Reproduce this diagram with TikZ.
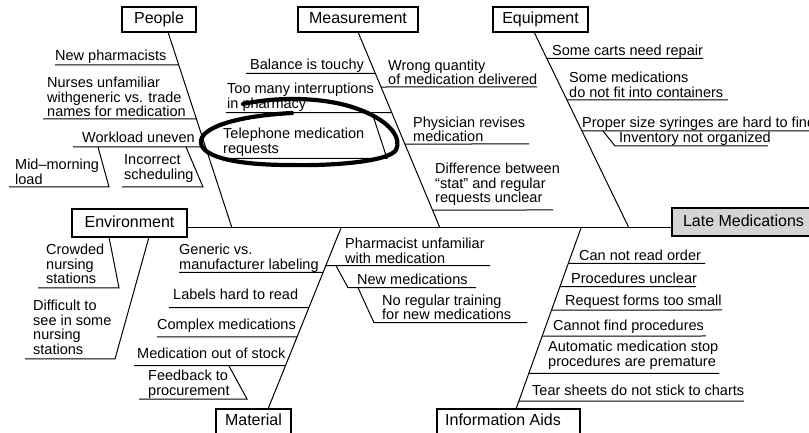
\documentclass[tikz,border=0pt]{standalone}
\usepackage{fontspec}
\setmainfont{Liberation Sans}
\begin{document}
\begin{tikzpicture}[x=1bp,y=-1bp,
  ln/.style={line width=1bp},
  cause/.style={anchor=base west, inner sep=0pt, align=left, font=\fontsize{14.5bp}{14.5bp}\selectfont},
  catbox/.style={draw, line width=1.2bp, fill=white, inner sep=0pt, minimum height=25bp,
    text height=11.5bp, text depth=3.4bp, font=\fontsize{16bp}{18bp}\selectfont},
  circ/.style={line width=4.2bp, line cap=round, line join=round}
]
\useasboundingbox (0,0) rectangle (809,433);
\clip (0,0) rectangle (809,433);

% bone coordinates
\coordinate (pT) at (168,32);  \coordinate (pB) at (232,228);
\coordinate (mT) at (358,32);  \coordinate (mB) at (440,228);
\coordinate (eT) at (534,32);  \coordinate (eB) at (629,228);
\coordinate (nT) at (149,237); \coordinate (nB) at (115,359);
\coordinate (maT) at (341,228); \coordinate (maB) at (268,409);
\coordinate (iT) at (581,228); \coordinate (iB) at (516,409);
\coordinate (sL) at (187,228); \coordinate (sR) at (672,228);

% spine and bones
\draw[ln] (sL) -- (sR);
\draw[ln] (pT) -- (pB);
\draw[ln] (mT) -- (mB);
\draw[ln] (eT) -- (eB);
\draw[ln] (maT) -- (maB);
\draw[ln] (iT) -- (iB);
\draw[ln] (nT) -- (nB) -- (25,359);

% People
\draw[ln] (55,65) -- (intersection of pT--pB and 55,65--300,65);
\draw[ln] (43,119) -- (intersection of pT--pB and 43,119--300,119);
\draw[ln] (73,147) -- (intersection of pT--pB and 73,147--300,147);
\draw[ln] (98,147) -- (109,187) -- (9,187);
\draw[ln] (186,147) -- (203,187) -- (122,187);
\node[cause] (c1) at (55,60.5) {New pharmacists};
\node[cause] (c2) at (47,116.8) {Nurses unfamiliar\\withgeneric vs. trade\\names for medication};
\node[cause] (c3) at (82,142.8) {Workload uneven};
\node[cause] (c4) at (15,184.3) {Mid–morning\\load};
\node[cause] (c5) at (124,179.3) {Incorrect\\scheduling};

% Measurement
\draw[ln] (246,73.3) -- (intersection of mT--mB and 246,73.3--500,73.3);
\draw[ln] (226,112.7) -- (intersection of mT--mB and 226,112.7--500,112.7);
\draw[ln] (372,112.7) -- (387,158.3) -- (222,158.3);
\draw[ln] (intersection of mT--mB and 300,87--600,87) -- (537,87);
\draw[ln] (intersection of mT--mB and 300,144--600,144) -- (529,144);
\draw[ln] (intersection of mT--mB and 300,210--600,210) -- (553,210);
\node[cause] (c6) at (250,69.5) {Balance is touchy};
\node[cause] (c7) at (227,108.3) {Too many interruptions\\in pharmacy};
\node[cause] (c8) at (223,153.3) {Telephone medication\\requests};
\node[cause] (c9) at (388,85) {Wrong quantity\\of medication delivered};
\node[cause] (c10) at (413,141.7) {Physician revises\\medication};
\node[cause] (c11) at (435,202.8) {Difference between\\“stat” and regular\\requests unclear};

% Equipment
\draw[ln] (intersection of eT--eB and 500,58.5--800,58.5) -- (703,58.5);
\draw[ln] (intersection of eT--eB and 500,100--800,100) -- (728,100);
\draw[ln] (intersection of eT--eB and 500,131--800,131) -- (812,131);
\draw[ln] (603,131) -- (615,146) -- (768,146);
\node[cause] (c12) at (552,56) {Some carts need repair};
\node[cause] (c13) at (569,97.5) {Some medications\\do not fit into containers};
\node[cause] (c14) at (582,127.5) {Proper size syringes are hard to find};
\node[cause] (c15) at (619,143) {Inventory not organized};

% Environment
\draw[ln] (109,237) -- (119,288) -- (38,288);
\node[cause] (c16) at (46,283.8) {Crowded\\nursing\\stations};
\node[cause] (c17) at (33,354.5) {Difficult to\\see in some\\nursing\\stations};

% Material
\draw[ln] (179,272.5) -- (intersection of maT--maB and 179,272.5--400,272.5);
\draw[ln] (169,307.7) -- (intersection of maT--maB and 169,307.7--400,307.7);
\draw[ln] (157,337) -- (intersection of maT--maB and 157,337--400,337);
\draw[ln] (134,365.7) -- (intersection of maT--maB and 134,365.7--400,365.7);
\draw[ln] (229,366) -- (247,399) -- (139,399);
\draw[ln] (intersection of maT--maB and 200,265.7--500,265.7) -- (490,265.7);
\draw[ln] (336,265.7) -- (348,287.7) -- (476,287.7);
\draw[ln] (358,287.7) -- (374,322.7) -- (527,322.7);
\node[cause] (c18) at (179,269.5) {Generic vs.\\manufacturer labeling};
\node[cause] (c19) at (173,300) {Labels hard to read};
\node[cause] (c20) at (157,329.5) {Complex medications};
\node[cause] (c21) at (137,358.5) {Medication out of stock};
\node[cause] (c22) at (148,395) {Feedback to\\procurement};
\node[cause] (c23) at (345,263.3) {Pharmacist unfamiliar\\with medication};
\node[cause] (c24) at (357,284.5) {New medications};
\node[cause] (c25) at (382,320) {No regular training\\for new medications};

% Information Aids
\draw[ln] (intersection of iT--iB and 450,263.3--800,263.3) -- (705,263.3);
\draw[ln] (intersection of iT--iB and 450,286.7--800,286.7) -- (696,286.7);
\draw[ln] (intersection of iT--iB and 450,310--800,310) -- (722,310);
\draw[ln] (intersection of iT--iB and 450,336--800,336) -- (706,336);
\draw[ln] (intersection of iT--iB and 450,373.3--800,373.3) -- (719,373.3);
\draw[ln] (intersection of iT--iB and 450,401--800,401) -- (744,401);
\node[cause] (c26) at (579,261) {Can not read order};
\node[cause] (c27) at (571,284) {Procedures unclear};
\node[cause] (c28) at (565,306) {Request forms too small};
\node[cause] (c29) at (553,330.5) {Cannot find procedures};
\node[cause] (c30) at (548,366.5) {Automatic medication stop\\procedures are premature};
\node[cause] (c31) at (532,395) {Tear sheets do not stick to charts};

% category boxes
\node[catbox, minimum width=74bp] (people) at (159,19.5) {People};
\node[catbox, minimum width=120bp] (measurement) at (358,19.5) {Measurement};
\node[catbox, minimum width=95bp] (equipment) at (540.5,19.5) {Equipment};
\node[catbox, minimum width=115bp, minimum height=28bp] (environment) at (129.5,223) {Environment};
\node[catbox, minimum width=143bp, minimum height=28bp, fill={rgb,255:red,212;green,212;blue,212}] (late) at (743.5,222) {Late Medications};
\node[catbox, minimum width=75bp] (material) at (253.5,421.5) {Material};
\node[catbox, minimum width=143bp] (infoaids) at (508.5,421.5) {Information Aids\hspace*{11bp}};

% hand-drawn circle
\draw[circ] (243,104) .. controls (280,96) and (330,97) .. (363,111)
  .. controls (390,122) and (402,138) .. (396,150)
  .. controls (388,162) and (330,166) .. (290,165)
  .. controls (240,165) and (203,158) .. (201,143)
  .. controls (199,128) and (235,116) .. (292,113);
\end{tikzpicture}
\end{document}
